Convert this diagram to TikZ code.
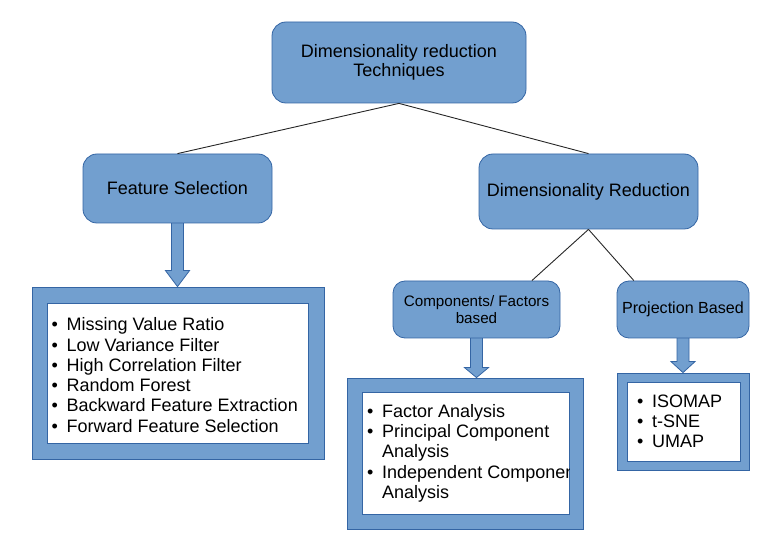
\documentclass[tikz,border=0pt]{standalone}
\usepackage{fontspec}
\setmainfont{Liberation Sans}
\usetikzlibrary{calc,backgrounds}
\definecolor{boxblue}{HTML}{729FCF}
\definecolor{boxline}{HTML}{3465A4}
\newcommand{\itm}{\makebox[15pt][l]{\textbullet}}
\newcommand{\blockarrow}[3]{%
  \draw[arrowbody] let \p1=(#1.south), \p2=(#2.north) in
    (\x1-6pt,\y1+3pt) -- (\x1-6pt,\y2+#3) -- (\x1-12pt,\y2+#3) -- (\x1,\y2)
    -- (\x1+12pt,\y2+#3) -- (\x1+6pt,\y2+#3) -- (\x1+6pt,\y1+3pt) -- cycle;}
\begin{document}
\begin{tikzpicture}[x=1pt, y=-1pt,
	box/.style={draw=boxline, fill=boxblue, line width=0.8pt, rounded corners=14pt, inner sep=0pt, align=center, font=\fontsize{18}{19}\selectfont},
	outbox/.style={draw=boxline, fill=boxblue, line width=0.8pt, inner sep=0pt},
	inbox/.style={draw=boxline, fill=white, line width=0.8pt, inner sep=0pt},
	listtext/.style={anchor=north west, align=left, inner sep=0pt, font=\fontsize{18}{20.3}\selectfont},
	link/.style={draw=black!85, line width=0.9pt},
	arrowbody/.style={draw=boxline, fill=boxblue, line width=0.8pt}]
	\useasboundingbox (0,0) rectangle (764,548);
	% Haut
	\node[box, minimum width=254pt, minimum height=81pt] (top) at (399,62.5) {Dimensionality reduction\\Techniques};
	% Branches
	\node[box, minimum width=189pt, minimum height=69pt] (fs) at (177.5,188.5) {Feature Selection};
	\node[box, minimum width=219pt, minimum height=75pt] (dr) at (588.5,191.5) {Dimensionality Reduction};
	\node[box, rounded corners=12pt, minimum width=167pt, minimum height=57pt, font=\fontsize{15.2}{17}\selectfont] (comp) at (476.5,309.5) {Components/ Factors\\based};
	\node[box, rounded corners=12pt, minimum width=132pt, minimum height=57pt, font=\fontsize{16.1}{18}\selectfont] (proj) at (683,309.5) {Projection Based};
	\draw[link] (top.south) -- (fs.north);
	\draw[link] (top.south) -- (dr.north);
	\draw[link] (dr.south) -- ($(comp.north west)!0.83!(comp.north east)$);
	\draw[link] (dr.south) -- ($(proj.north west)!0.13!(proj.north east)$);
	% Listes
	\node[outbox, minimum width=292pt, minimum height=172pt] (fslist) at (178,373) {};
	\node[inbox, minimum width=261pt, minimum height=140pt] (fsin) at (177.5,373) {};
	\node[listtext] (fstext) at (51.5,317.5) {\itm Missing Value Ratio\\\itm Low Variance Filter\\\itm High Correlation Filter\\\itm Random Forest\\\itm Backward Feature Extraction\\\itm Forward Feature Selection};
	\node[outbox, minimum width=236pt, minimum height=151pt] (complist) at (465,453.5) {};
	\node[inbox, minimum width=207pt, minimum height=122pt] (compin) at (465.5,453) {};
	\begin{scope}
		\clip (compin.south west) rectangle (compin.north east);
		\node[listtext] (comptext) at (367,404) {\itm Factor Analysis\\\itm Principal Component\\\hspace*{15pt}Analysis\\\itm Independent Component\\\hspace*{15pt}Analysis};
	\end{scope}
	\node[outbox, minimum width=132pt, minimum height=97pt] (projlist) at (683,421.5) {};
	\node[inbox, minimum width=113pt, minimum height=79pt] (projin) at (683.5,421.5) {};
	\node[listtext] (projtext) at (637,394.5) {\itm ISOMAP\\\itm t-SNE\\\itm UMAP};
	% Fleches
	\begin{scope}[on background layer]
		\blockarrow{fs}{fslist}{16pt}
		\blockarrow{comp}{complist}{10pt}
		\blockarrow{proj}{projlist}{11pt}
	\end{scope}
\end{tikzpicture}
\end{document}
